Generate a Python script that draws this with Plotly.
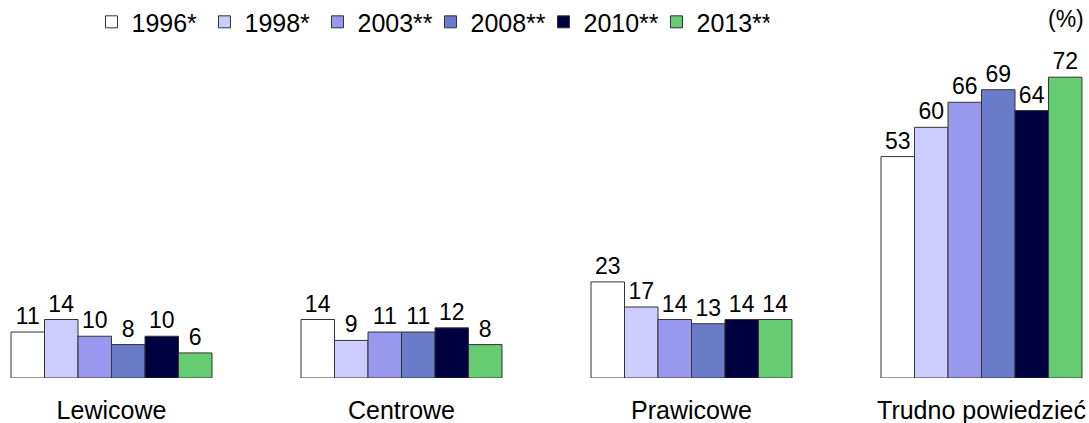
import plotly.graph_objects as go

categories = ["Lewicowe", "Centrowe", "Prawicowe", "Trudno powiedzieć"]
years = ["1996*", "1998*", "2003**", "2008**", "2010**", "2013**"]
values = {
    "1996*":  [11, 14, 23, 53],
    "1998*":  [14, 9, 17, 60],
    "2003**": [10, 11, 14, 66],
    "2008**": [8, 11, 13, 69],
    "2010**": [10, 12, 14, 64],
    "2013**": [6, 8, 14, 72],
}
colors = ["#ffffff", "#ccccff", "#9898ee", "#6a7bc8", "#000040", "#66cc72"]

FONT = "Liberation Sans, Arial, sans-serif"

fig = go.Figure()
for year, color in zip(years, colors):
    fig.add_trace(go.Bar(
        x=categories, y=values[year], name=year,
        marker=dict(color=color, line=dict(color="#333333", width=1)),
        text=values[year], textposition="outside", constraintext="none",
        textfont=dict(size=23, color="#000000", family=FONT),
        cliponaxis=False,
    ))

fig.update_layout(
    width=1089, height=423,
    barmode="group", bargap=0.307, bargroupgap=0,
    plot_bgcolor="#ffffff", paper_bgcolor="#ffffff",
    font=dict(family=FONT, size=25, color="#000000"),
    margin=dict(l=0, r=0, t=40, b=45, autoexpand=False),
    xaxis=dict(range=[-0.3845, 3.3707], showgrid=False, zeroline=False,
               showline=False, ticks="", ticklabelstandoff=15, automargin=False,
               tickfont=dict(size=25)),
    yaxis=dict(range=[0, 80.9], visible=False, automargin=False),
    legend=dict(orientation="h", x=0.084, y=0.985, xanchor="left", yanchor="bottom",
                font=dict(size=25), itemwidth=30, traceorder="normal",
                entrywidth=68, entrywidthmode="pixels",
                bgcolor="rgba(0,0,0,0)"),
    showlegend=True,
    annotations=[dict(text="(%)", xref="paper", yref="paper", x=0.997, y=1.0,
                      xanchor="right", yanchor="bottom", yshift=6, showarrow=False,
                      font=dict(size=23))],
)

fig.write_html("out.html", config={"displayModeBar": False},
               post_script="document.body.style.margin='0';")
